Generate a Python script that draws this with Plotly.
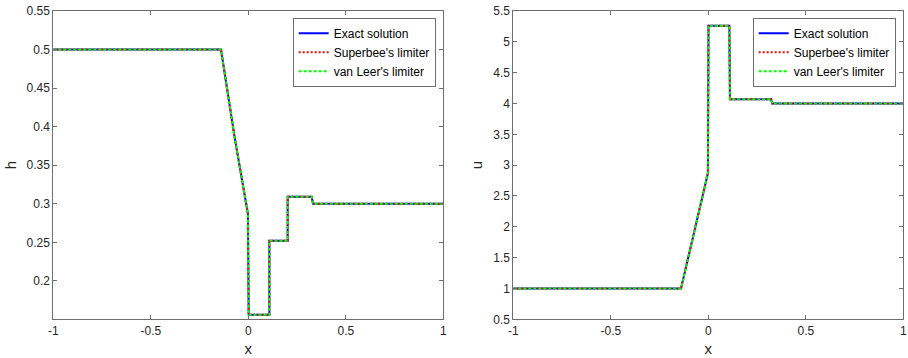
import plotly.graph_objects as go

# ---- data ----
x_h = [-1.0, -0.14, -0.07, -0.002, 0.002, 0.108, 0.108, 0.202, 0.202, 0.325, 0.332, 1.0]
h_exact = [0.5, 0.5, 0.386, 0.287, 0.156, 0.156, 0.252, 0.252, 0.309, 0.309, 0.3, 0.3]
h_superbee = [0.5, 0.5, 0.386, 0.287, 0.156, 0.156, 0.252, 0.252, 0.309, 0.309, 0.3, 0.3]
h_vanleer = [0.5, 0.5, 0.386, 0.287, 0.156, 0.156, 0.252, 0.252, 0.309, 0.309, 0.3, 0.3]

x_u = [-1.0, -0.14, -0.002, 0.001, 0.108, 0.111, 0.322, 0.328, 1.0]
u_exact = [1.0, 1.0, 2.87, 5.26, 5.26, 4.07, 4.07, 4.0, 4.0]
u_superbee = [1.0, 1.0, 2.87, 5.26, 5.26, 4.07, 4.07, 4.0, 4.0]
u_vanleer = [1.0, 1.0, 2.87, 5.26, 5.26, 4.07, 4.07, 4.0, 4.0]

series_names = ["Exact solution", "Superbee's limiter", "van Leer's limiter"]

x_tickvals = [-1, -0.5, 0, 0.5, 1]
x_ticktext = ["-1", "-0.5", "0", "0.5", "1"]
h_tickvals = [0.2, 0.25, 0.3, 0.35, 0.4, 0.45, 0.5, 0.55]
h_ticktext = ["0.2", "0.25", "0.3", "0.35", "0.4", "0.45", "0.5", "0.55"]
u_tickvals = [0.5, 1, 1.5, 2, 2.5, 3, 3.5, 4, 4.5, 5, 5.5]
u_ticktext = ["0.5", "1", "1.5", "2", "2.5", "3", "3.5", "4", "4.5", "5", "5.5"]

# ---- styling ----
FONT = "Liberation Sans, Arial, sans-serif"
styles = [
    dict(color="#0000FF", width=2, dash="solid"),
    dict(color="#FF0000", width=2, dash="2px,2px"),
    dict(color="#00FF00", width=2, dash="3px,2px"),
]

W, H = 908, 358
fig = go.Figure()

for ys, name, st in zip([h_exact, h_superbee, h_vanleer], series_names, styles):
    fig.add_trace(go.Scatter(x=x_h, y=ys, mode="lines", name=name, line=st,
                             xaxis="x", yaxis="y", legend="legend"))
for ys, name, st in zip([u_exact, u_superbee, u_vanleer], series_names, styles):
    fig.add_trace(go.Scatter(x=x_u, y=ys, mode="lines", name=name, line=st,
                             xaxis="x2", yaxis="y2", legend="legend2"))

axis_common = dict(
    showgrid=False, zeroline=False, showline=True, linecolor="#6e6e6e", linewidth=1,
    mirror="ticks", ticks="inside", ticklen=4, tickcolor="#6e6e6e",
    tickfont=dict(family=FONT, size=12, color="#262626"), automargin=False,
)

y_dom = [1 - 319.3 / H, 1 - 11 / H]
fig.update_layout(
    width=W, height=H,
    margin=dict(l=0, r=0, t=0, b=0),
    paper_bgcolor="white", plot_bgcolor="white",
    font=dict(family=FONT, size=12, color="#262626"),
    xaxis=dict(axis_common, domain=[53.3 / W, 443.3 / W], range=[-1, 1], anchor="y",
               tickvals=x_tickvals, ticktext=x_ticktext,
               title=dict(text="x", font=dict(size=15, color="#262626"), standoff=6)),
    yaxis=dict(axis_common, domain=y_dom, range=[0.1502, 0.55], anchor="x",
               tickvals=h_tickvals, ticktext=h_ticktext,
               title=dict(text="h", font=dict(size=15, color="#262626"), standoff=6)),
    xaxis2=dict(axis_common, domain=[513.3 / W, 903.3 / W], range=[-1, 1], anchor="y2",
                tickvals=x_tickvals, ticktext=x_ticktext,
                title=dict(text="x", font=dict(size=15, color="#262626"), standoff=6)),
    yaxis2=dict(axis_common, domain=y_dom, range=[0.5, 5.5], anchor="x2",
                tickvals=u_tickvals, ticktext=u_ticktext,
                title=dict(text="u", font=dict(size=15, color="#262626"), standoff=6)),
    legend=dict(x=292.7 / W, y=1 - 17.7 / H, xanchor="left", yanchor="top",
                bgcolor="white", bordercolor="#6e6e6e", borderwidth=1,
                font=dict(family=FONT, size=12, color="#000000"), tracegroupgap=0,
                itemwidth=30),
    legend2=dict(x=752.7 / W, y=1 - 17.7 / H, xanchor="left", yanchor="top",
                 bgcolor="white", bordercolor="#6e6e6e", borderwidth=1,
                 font=dict(family=FONT, size=12, color="#000000"), tracegroupgap=0,
                 itemwidth=30),
    showlegend=True,
)

fig.write_html("out.html")
